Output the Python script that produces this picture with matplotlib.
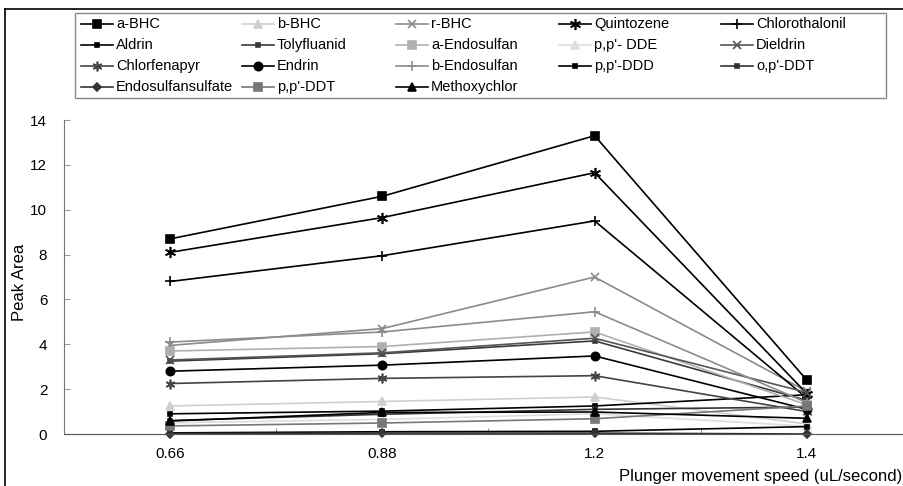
import numpy as np
import matplotlib.pyplot as plt
from matplotlib.lines import Line2D
from matplotlib.patches import Rectangle

# x categories (plunger speed)
speeds = ['0.66', '0.88', '1.2', '1.4']

# peak areas
a_bhc = [8.7, 10.6, 13.3, 2.4]
b_bhc = [1.25, 1.45, 1.65, 0.45]
r_bhc = [3.95, 4.7, 7.0, 1.9]
quintozene = [8.1, 9.65, 11.65, 1.8]
chlorothalonil = [6.8, 7.95, 9.5, 1.6]
aldrin = [0.9, 1.02, 1.25, 1.75]
tolyfluanid = [3.25, 3.58, 4.15, 1.5]
a_endosulfan = [3.7, 3.9, 4.55, 1.3]
pp_dde = [0.5, 0.65, 0.9, 0.35]
dieldrin = [3.3, 3.62, 4.27, 1.85]
chlorfenapyr = [2.25, 2.48, 2.6, 1.0]
endrin = [2.8, 3.07, 3.48, 1.1]
b_endosulfan = [4.1, 4.55, 5.45, 1.4]
pp_ddd = [0.05, 0.1, 0.12, 0.33]
op_ddt = [0.6, 0.88, 1.1, 1.2]
endosulfansulfate = [0.02, 0.04, 0.04, 0.0]
pp_ddt = [0.36, 0.49, 0.68, 1.25]
methoxychlor = [0.58, 0.96, 0.98, 0.7]

# label, values, color, marker, markersize
series = [
    ('a-BHC', a_bhc, 'black', 's', 6),
    ('b-BHC', b_bhc, '#cfcfcf', '^', 6),
    ('r-BHC', r_bhc, '#8a8a8a', 'x', 6),
    ('Quintozene', quintozene, 'black', (6, 2, 0), 8),
    ('Chlorothalonil', chlorothalonil, 'black', '+', 7),
    ('Aldrin', aldrin, 'black', 's', 3),
    ('Tolyfluanid', tolyfluanid, '#3a3a3a', 's', 3),
    ('a-Endosulfan', a_endosulfan, '#b0b0b0', 's', 6),
    ("p,p'- DDE", pp_dde, '#dddddd', '^', 6),
    ('Dieldrin', dieldrin, '#555555', 'x', 6),
    ('Chlorfenapyr', chlorfenapyr, '#444444', (6, 2, 0), 7),
    ('Endrin', endrin, 'black', 'o', 6),
    ('b-Endosulfan', b_endosulfan, '#8c8c8c', '+', 7),
    ("p,p'-DDD", pp_ddd, 'black', 's', 3),
    ("o,p'-DDT", op_ddt, '#333333', 's', 3),
    ('Endosulfansulfate', endosulfansulfate, '#333333', 'D', 4),
    ("p,p'-DDT", pp_ddt, '#777777', 's', 6),
    ('Methoxychlor', methoxychlor, 'black', '^', 6),
]

plt.rcParams['font.family'] = ['Liberation Sans', 'DejaVu Sans']

W, H = 904, 486
fig = plt.figure(figsize=(W / 100, H / 100), dpi=100)
ax = fig.add_axes([64 / W, 1 - 434 / H, (913 - 64) / W, 314 / H])

x = np.arange(len(speeds))
for label, vals, col, mk, ms in series:
    ax.plot(x, vals, color=col, marker=mk, markersize=ms, linewidth=1.2,
            markeredgewidth=1.2, label=label, clip_on=False)

ax.set_xlim(-0.5, 3.5)
ax.set_ylim(0, 14)
ax.set_yticks(np.arange(0, 15, 2))
ax.set_xticks(x)
ax.set_xticklabels(speeds)
ax.set_xticks(np.arange(-0.5, 4, 1), minor=True)
ax.tick_params(axis='x', which='major', length=0, pad=9, labelsize=11)
ax.tick_params(axis='x', which='minor', direction='in', length=4, color='#777777')
ax.tick_params(axis='y', direction='in', length=4, color='#999999', pad=12, labelsize=11)
for s in ['top', 'right']:
    ax.spines[s].set_visible(False)
ax.spines['left'].set_color('#777777')
ax.spines['bottom'].set_color('#555555')

fig.text(20 / W, 1 - 282 / H, 'Peak Area', rotation=90, ha='center', va='center', fontsize=12)
fig.text(902 / W, 1 - 476 / H, 'Plunger movement speed (uL/second)',
         ha='right', va='center', fontsize=12)

# legend drawn by hand: 5 evenly spaced columns, filled row by row
fig.add_artist(Rectangle((75 / W, 1 - 98 / H), (886 - 75) / W, 85 / H,
                         transform=fig.transFigure, fill=False, edgecolor='#888888', lw=1))
col_x = [97, 258, 412, 575, 737]
row_y = [24, 45, 66, 87]
for i, (label, vals, col, mk, ms) in enumerate(series):
    cx, cy = col_x[i % 5], row_y[i // 5]
    fig.add_artist(Line2D([(cx - 16) / W, (cx + 16) / W], [1 - cy / H, 1 - cy / H],
                          color=col, lw=1.2, marker=None))
    fig.add_artist(Line2D([cx / W], [1 - cy / H], color=col, marker=mk,
                          markersize=ms, markeredgewidth=1.2, linestyle='none'))
    fig.text((cx + 19) / W, 1 - cy / H, label, ha='left', va='center', fontsize=10.5)

# figure frame lines (left and top)
fig.add_artist(Line2D([5 / W, 5 / W], [0, 1 - 9 / H], color='black', lw=1.2))
fig.add_artist(Line2D([5 / W, 1], [1 - 9 / H, 1 - 9 / H], color='black', lw=1.2))

fig.savefig('out.png', dpi=100)
